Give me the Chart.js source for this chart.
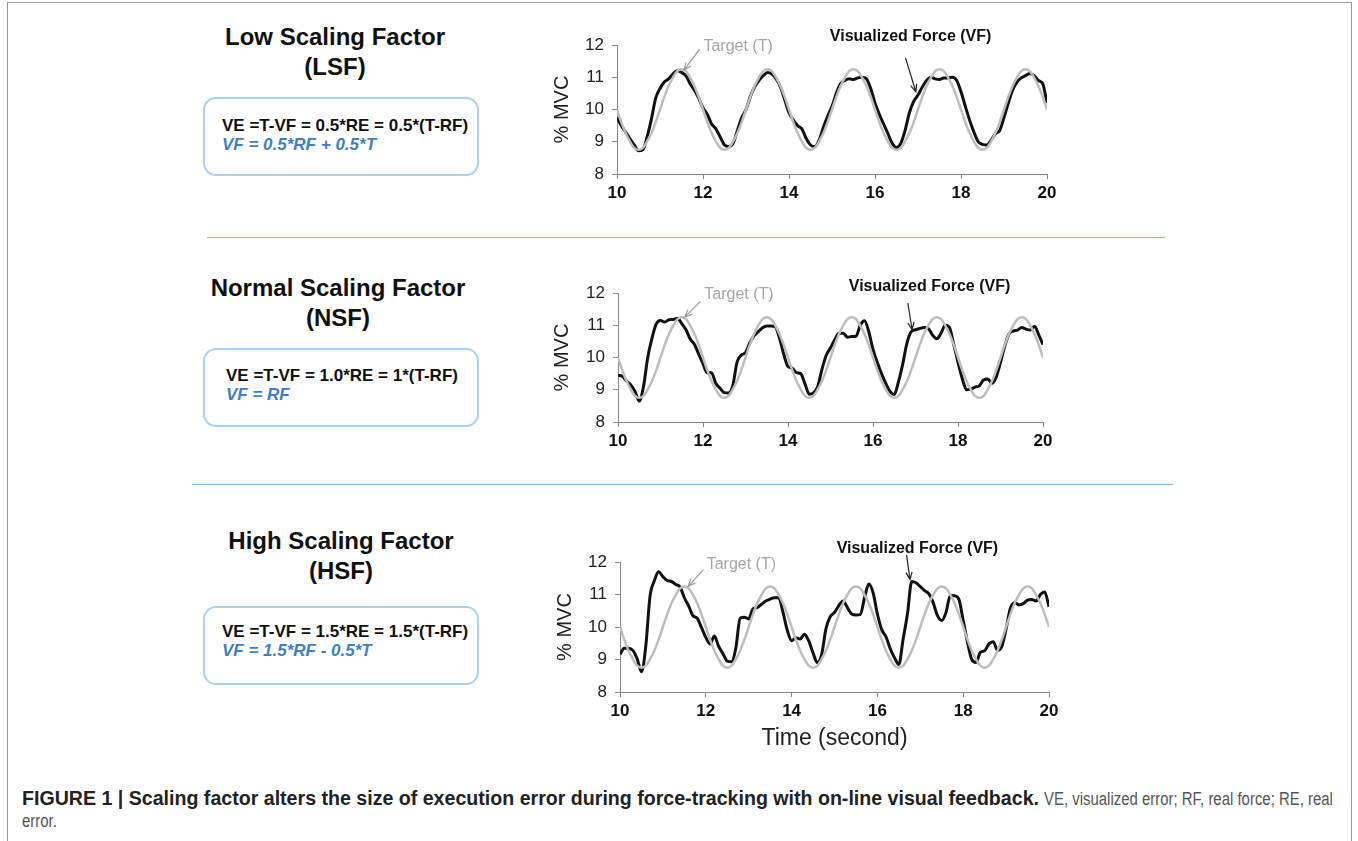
<!DOCTYPE html>
<html>
<head>
<meta charset="utf-8">
<script src="https://cdn.jsdelivr.net/npm/chart.js@4.4.0/dist/chart.umd.min.js"></script>
<style>
  body { margin: 0; width: 1358px; height: 841px; background: #fff; position: relative; overflow: hidden;
         font-family: "Liberation Sans", Arial, sans-serif; color: #111; }
  .frame { position: absolute; left: 7px; top: 2px; width: 1343px; height: 900px; border: 1px solid #9a9a9a; }
  .title { position: absolute; width: 340px; text-align: center; font-weight: bold; font-size: 24px; line-height: 30px; }
  .box { position: absolute; left: 203px; width: 272px; height: 75px; border: 2px solid #a9d1f6; border-radius: 13px; }
  .eq { position: absolute; font-weight: bold; font-size: 17px; line-height: 19px; white-space: nowrap; }
  .eq i { color: #3f7fc6; }
  .sep { position: absolute; height: 1px; background: #7fb4e6; }
  canvas { position: absolute; }
  .caption { position: absolute; left: 22px; top: 787px; line-height: 22px; white-space: nowrap; color: #555; font-size: 18px; }
  .caption b { color: #222; font-size: 19.6px; }
  .caption .n { display: inline-block; transform: scaleX(0.83); transform-origin: 0 50%; }
</style>
</head>
<body>
<div class="frame"></div>

<div class="title" style="left:165px; top:22px;">Low Scaling Factor<br>(LSF)</div>
<div class="box" style="top:97px;"></div>
<div class="eq" style="left:222px; top:116px;">VE =T-VF = 0.5*RE = 0.5*(T-RF)<br><i>VF = 0.5*RF + 0.5*T</i></div>

<div class="sep" style="left:207px; top:237px; width:958px;"></div>

<div class="title" style="left:168px; top:273px;">Normal Scaling Factor<br>(NSF)</div>
<div class="box" style="top:348px;"></div>
<div class="eq" style="left:226px; top:366px;">VE =T-VF = 1.0*RE = 1*(T-RF)<br><i>VF = RF</i></div>

<div class="sep" style="left:192px; top:484px; width:981px;"></div>

<div class="title" style="left:171px; top:526px;">High Scaling Factor<br>(HSF)</div>
<div class="box" style="top:606px;"></div>
<div class="eq" style="left:222px; top:622px;">VE =T-VF = 1.5*RE = 1.5*(T-RF)<br><i>VF = 1.5*RF - 0.5*T</i></div>

<canvas id="lsf" width="530" height="190" style="left:540px; top:20px;"></canvas>
<canvas id="nsf" width="530" height="190" style="left:540px; top:268px;"></canvas>
<canvas id="hsf" width="530" height="225" style="left:540px; top:537px;"></canvas>

<div class="caption"><b>FIGURE 1 | Scaling factor alters the size of execution error during force-tracking with on-line visual feedback.</b> <span class="n">VE, visualized error; RF, real force; RE, real</span><br><span class="n">error.</span></div>

<script>
// time (s), sampled every 0.1 s
const times = [
  10.0,10.1,10.2,10.3,10.4,10.5,10.6,10.7,10.8,10.9,
  11.0,11.1,11.2,11.3,11.4,11.5,11.6,11.7,11.8,11.9,
  12.0,12.1,12.2,12.3,12.4,12.5,12.6,12.7,12.8,12.9,
  13.0,13.1,13.2,13.3,13.4,13.5,13.6,13.7,13.8,13.9,
  14.0,14.1,14.2,14.3,14.4,14.5,14.6,14.7,14.8,14.9,
  15.0,15.1,15.2,15.3,15.4,15.5,15.6,15.7,15.8,15.9,
  16.0,16.1,16.2,16.3,16.4,16.5,16.6,16.7,16.8,16.9,
  17.0,17.1,17.2,17.3,17.4,17.5,17.6,17.7,17.8,17.9,
  18.0,18.1,18.2,18.3,18.4,18.5,18.6,18.7,18.8,18.9,
  19.0,19.1,19.2,19.3,19.4,19.5,19.6,19.7,19.8,19.9,
  20.0
];

// Target (T), % MVC - same in all three panels
const target = [
  10.0,9.61,9.27,9.01,8.81,8.75,8.81,9.01,9.27,9.61,10.0,10.39,10.73,10.99,11.19,11.25,11.19,10.99,10.73,10.39,
  10.0,9.61,9.27,9.01,8.81,8.75,8.81,9.01,9.27,9.61,10.0,10.39,10.73,10.99,11.19,11.25,11.19,10.99,10.73,10.39,
  10.0,9.61,9.27,9.01,8.81,8.75,8.81,9.01,9.27,9.61,10.0,10.39,10.73,10.99,11.19,11.25,11.19,10.99,10.73,10.39,
  10.0,9.61,9.27,9.01,8.81,8.75,8.81,9.01,9.27,9.61,10.0,10.39,10.73,10.99,11.19,11.25,11.19,10.99,10.73,10.39,
  10.0,9.61,9.27,9.01,8.81,8.75,8.81,9.01,9.27,9.61,10.0,10.39,10.73,10.99,11.19,11.25,11.19,10.99,10.73,10.39,
  10.0
];

// Visualized Force (VF), low scaling factor
const vfLow = [
  9.75,9.5,9.3,9.1,8.9,8.72,8.75,9.15,9.7,10.35,
  10.65,10.85,10.95,11.1,11.2,11.15,11.05,10.8,10.6,10.35,
  10.05,9.85,9.55,9.4,9.15,8.9,8.85,8.95,9.35,9.75,
  10.0,10.4,10.7,10.9,11.05,11.15,11.1,10.95,10.7,10.3,
  9.9,9.67,9.5,9.4,9.1,8.9,8.85,9.05,9.45,9.8,
  10.1,10.5,10.8,10.9,10.95,10.93,10.98,11.0,10.95,10.65,
  10.2,9.85,9.55,9.25,8.95,8.82,8.95,9.35,9.9,10.25,
  10.45,10.7,10.9,11.0,10.95,10.93,10.98,10.98,11.0,10.9,
  10.55,10.1,9.67,9.3,9.0,8.92,8.9,9.05,9.25,9.35,
  9.75,10.2,10.6,10.85,10.98,11.05,11.12,11.05,10.9,10.8,
  10.2
];

// Visualized Force (VF), normal scaling factor
const vfNormal = [
  9.45,9.42,9.27,9.15,8.95,8.65,9.1,10.0,10.6,11.04,
  11.15,11.1,11.17,11.18,11.22,11.05,10.86,10.57,10.4,10.1,
  9.8,9.52,9.53,9.2,9.05,8.91,8.9,9.12,9.85,10.07,
  10.15,10.45,10.67,10.8,10.92,10.98,10.98,10.95,10.6,10.1,
  9.72,9.67,9.53,9.5,9.18,8.86,8.9,9.1,9.64,10.07,
  10.3,10.55,10.75,10.75,10.63,10.65,10.66,11.0,11.14,10.8,
  10.25,9.85,9.5,9.2,8.95,8.85,9.25,9.8,10.45,10.8,
  10.86,10.9,10.93,10.9,10.7,10.58,10.75,11.0,10.93,10.4,
  9.85,9.35,9.0,9.02,9.08,9.12,9.3,9.33,9.2,9.4,
  9.85,10.35,10.73,10.82,10.85,10.93,10.88,10.85,10.97,10.7,
  10.4
];

// Visualized Force (VF), high scaling factor
const vfHigh = [
  9.16,9.35,9.35,9.28,9.02,8.62,9.4,10.95,11.42,11.7,
  11.55,11.43,11.4,11.31,11.23,10.9,10.65,10.35,10.27,9.98,
  9.68,9.48,9.72,9.4,9.18,8.95,8.93,9.35,10.27,10.3,
  10.25,10.56,10.6,10.7,10.8,10.86,10.9,10.9,10.45,9.9,
  9.58,9.67,9.63,9.78,9.57,9.2,8.9,9.15,9.94,10.32,
  10.45,10.66,10.8,10.6,10.4,10.37,10.38,10.9,11.32,11.05,
  10.4,9.92,9.7,9.33,9.05,8.85,9.63,10.4,11.4,11.36,
  11.24,11.12,11.02,10.75,10.35,10.2,10.45,10.97,10.96,10.85,
  10.2,9.53,9.0,8.91,9.22,9.27,9.48,9.55,9.28,9.4,
  9.94,10.58,10.75,10.68,10.72,10.83,10.85,10.8,11.0,11.08,
  10.62
];

const xTicks = [10, 12, 14, 16, 18, 20];
const yTicks = [8, 9, 10, 11, 12];

const FONT = '"Liberation Sans", Arial, sans-serif';

function arrow(ctx, from, to, color) {
  const ang = Math.atan2(to[1] - from[1], to[0] - from[0]);
  const head = 8;
  ctx.strokeStyle = color;
  ctx.lineWidth = 1.2;
  ctx.beginPath();
  ctx.moveTo(from[0], from[1]);
  ctx.lineTo(to[0], to[1]);
  ctx.moveTo(to[0] - head * Math.cos(ang - 0.4), to[1] - head * Math.sin(ang - 0.4));
  ctx.lineTo(to[0], to[1]);
  ctx.lineTo(to[0] - head * Math.cos(ang + 0.4), to[1] - head * Math.sin(ang + 0.4));
  ctx.stroke();
}

// labels + arrows, anchored in data coordinates
const notes = {
  id: 'notes',
  afterDraw(chart, args, o) {
    const { ctx } = chart;
    const sx = chart.scales.x, sy = chart.scales.y;
    const px = p => [sx.getPixelForValue(p[0]), sy.getPixelForValue(p[1])];
    ctx.save();
    ctx.textBaseline = 'middle';
    ctx.textAlign = 'left';

    let p = px(o.tText);
    ctx.font = '16px ' + FONT;
    ctx.fillStyle = '#a6a6a6';
    ctx.fillText('Target (T)', p[0], p[1]);
    arrow(ctx, px(o.tArrow[0]), px(o.tArrow[1]), '#999');

    p = px(o.vText);
    ctx.font = 'bold 16px ' + FONT;
    ctx.fillStyle = '#111';
    ctx.fillText('Visualized Force (VF)', p[0], p[1]);
    arrow(ctx, px(o.vArrow[0]), px(o.vArrow[1]), '#222');
    ctx.restore();
  }
};

function makeChart(id, vf, cfg) {
  const pts = arr => times.map((t, i) => ({ x: t, y: arr[i] }));
  return new Chart(document.getElementById(id), {
    type: 'line',
    data: {
      datasets: [
        { label: 'Target (T)', data: pts(target), borderColor: '#bdbdbd', borderWidth: 2.5,
          pointRadius: 0, cubicInterpolationMode: 'monotone', order: 0 },
        { label: 'Visualized Force (VF)', data: pts(vf), borderColor: '#111', borderWidth: 3,
          pointRadius: 0, cubicInterpolationMode: 'monotone', order: 1 }
      ]
    },
    options: {
      responsive: false,
      animation: false,
      events: [],
      layout: { padding: { top: 25, right: cfg.padRight, left: 0, bottom: 0 } },
      plugins: { legend: { display: false }, tooltip: { enabled: false }, notes: cfg.notes },
      scales: {
        x: {
          type: 'linear', min: 10, max: 20,
          afterBuildTicks: s => { s.ticks = xTicks.map(v => ({ value: v })); },
          afterFit: s => { s.height = cfg.xHeight; },
          grid: { drawOnChartArea: false, drawTicks: true, tickLength: 5, color: '#888' },
          border: { display: true, color: '#888', width: 1 },
          ticks: { color: '#111', padding: 4, maxRotation: 0, font: { family: FONT, size: 17, weight: 'bold' } },
          title: cfg.xTitle
            ? { display: true, text: 'Time (second)', color: '#222', padding: { top: 0, bottom: 10 },
                font: { family: FONT, size: 23 } }
            : { display: false }
        },
        y: {
          min: 8, max: 12,
          afterBuildTicks: s => { s.ticks = yTicks.map(v => ({ value: v })); },
          afterFit: s => { s.width = cfg.yWidth; },
          grid: { drawOnChartArea: false, drawTicks: true, tickLength: 5, color: '#888' },
          border: { display: true, color: '#888', width: 1 },
          ticks: { color: '#222', padding: 8, font: { family: FONT, size: 17 } },
          title: { display: true, text: '% MVC', color: '#222', padding: { top: cfg.yTitlePad, bottom: 0 },
                   font: { family: FONT, size: 20 } }
        }
      }
    },
    plugins: [notes]
  });
}

makeChart('lsf', vfLow, {
  padRight: 23, yWidth: 77, xHeight: 36, yTitlePad: 10,
  notes: { tText: [12.01, 11.95], tArrow: [[11.92, 11.87], [11.56, 11.22]],
           vText: [14.95, 12.26], vArrow: [[16.71, 11.6], [16.95, 10.55]] }
});
makeChart('nsf', vfNormal, {
  padRight: 27, yWidth: 78, xHeight: 36, yTitlePad: 10,
  notes: { tText: [12.03, 11.95], tArrow: [[11.94, 11.74], [11.57, 11.25]],
           vText: [15.43, 12.2], vArrow: [[16.82, 11.69], [16.92, 10.86]] }
});
makeChart('hsf', vfHigh, {
  padRight: 21, yWidth: 80, xHeight: 70, yTitlePad: 13, xTitle: true,
  notes: { tText: [12.02, 11.92], tArrow: [[11.94, 11.76], [11.59, 11.25]],
           vText: [15.05, 12.4], vArrow: [[16.68, 12.22], [16.76, 11.46]] }
});
</script>
</body>
</html>
